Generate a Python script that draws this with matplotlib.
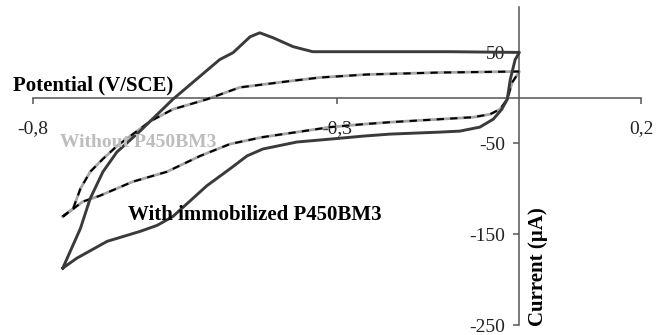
# -*- coding: utf-8 -*-
'''Cyclic voltammograms: electrode with and without immobilized P450BM3'''

import numpy as np
import matplotlib.pyplot as plt

plt.rcParams['font.family'] = ['Liberation Serif', 'DejaVu Serif']
plt.rcParams['axes.unicode_minus'] = False

# with immobilized P450BM3 : potential (V/SCE), current (uA), one full cycle
pot_with = [-0.751, -0.722, -0.706, -0.685, -0.662, -0.624, -0.570, -0.493, -0.471,
            -0.443, -0.427, -0.405, -0.372, -0.340, -0.246, -0.114, 0.0,
            -0.007, -0.015, -0.020, -0.029, -0.043, -0.065, -0.098, -0.131, -0.213,
            -0.257, -0.311, -0.366, -0.422, -0.448, -0.476, -0.514, -0.570, -0.596,
            -0.624, -0.678, -0.728, -0.751]
cur_with = [-187.4, -143.7, -110.9, -81.4, -59.6, -36.6, -1.6, 42.1, 49.7,
            67.2, 71.6, 66.1, 56.3, 50.8, 50.8, 50.8, 50.0,
            42.1, 20.2, -1.6, -12.6, -23.5, -32.2, -36.6, -37.7, -39.9,
            -42.1, -45.4, -48.6, -56.3, -63.9, -78.1, -96.7, -130.6, -140.4,
            -147.0, -157.9, -176.5, -187.4]

# without P450BM3
pot_without = [-0.751, -0.734, -0.722, -0.706, -0.685, -0.662, -0.629, -0.607, -0.570,
               -0.514, -0.460, -0.383, -0.328, -0.251, -0.131, 0.0,
               -0.012, -0.020, -0.032, -0.048, -0.076, -0.131, -0.213, -0.257, -0.311,
               -0.366, -0.422, -0.476, -0.525, -0.580, -0.636, -0.690, -0.718, -0.751]
cur_without = [-130.6, -121.9, -100.0, -81.4, -67.2, -53.0, -36.6, -25.7, -12.6,
               -1.6, 11.5, 18.0, 22.4, 25.7, 27.9, 29.0,
               16.9, -1.6, -12.6, -18.0, -21.3, -23.5, -26.8, -29.0, -32.2,
               -37.7, -43.2, -50.8, -63.9, -81.4, -92.3, -107.7, -114.2, -130.6]

xticks = [-0.8, -0.3, 0.2]
xlabels = ['-0,8', '-0,3', '0,2']
yticks = [-250, -150, -50, 50]
ylabels = ['-250', '-150', '-50', '50']

fig = plt.figure(figsize=(6.57, 3.35), dpi=100)
ax = fig.add_axes([33/657, 10/335, 608/657, 318/335])

ax.plot(pot_without, cur_without, color='#a6a6a6', lw=2.0, zorder=2)
ax.plot(pot_without, cur_without, color='black', lw=1.5, dashes=(3.5, 3), zorder=3)
ax.plot(pot_with, cur_with, color='#3a3a3a', lw=2.1, zorder=4)

ax.set_xlim(-0.8, 0.2)
ax.set_ylim(-250, 100)

# axes crossing at the origin
for s in ['top', 'right']:
    ax.spines[s].set_visible(False)
ax.spines['left'].set_position(('data', 0))
ax.spines['bottom'].set_position(('data', 0))
for s in ['left', 'bottom']:
    ax.spines[s].set_color('#555555')
    ax.spines[s].set_linewidth(1.1)

ax.set_xticks(xticks)
ax.set_xticklabels(xlabels)
ax.set_yticks(yticks)
ax.set_yticklabels(ylabels)
ax.tick_params(axis='x', direction='out', length=4, width=1.1, color='#555555',
               pad=12, labelsize=14, labelcolor='#222222')
ax.tick_params(axis='y', direction='out', length=4, width=1.1, color='#555555',
               pad=6, labelsize=14, labelcolor='#222222')
ax.patch.set_alpha(0)

fig.text(13/657, 1 - 90/335, 'Potential (V/SCE)', fontsize=15, fontweight='bold',
         ha='left', va='baseline')
fig.text(538/657, 1 - 267/335, 'Current (µA)', fontsize=15, fontweight='bold',
         rotation=90, ha='center', va='center')
fig.text(60/657, 1 - 147/335, 'Without P450BM3', fontsize=14, fontweight='bold',
         color='#bdbdbd', ha='left', va='baseline', zorder=1)
fig.text(128/657, 1 - 220/335, 'With immobilized P450BM3', fontsize=15,
         fontweight='bold', ha='left', va='baseline', zorder=1)

plt.savefig('out.png', dpi=100)
